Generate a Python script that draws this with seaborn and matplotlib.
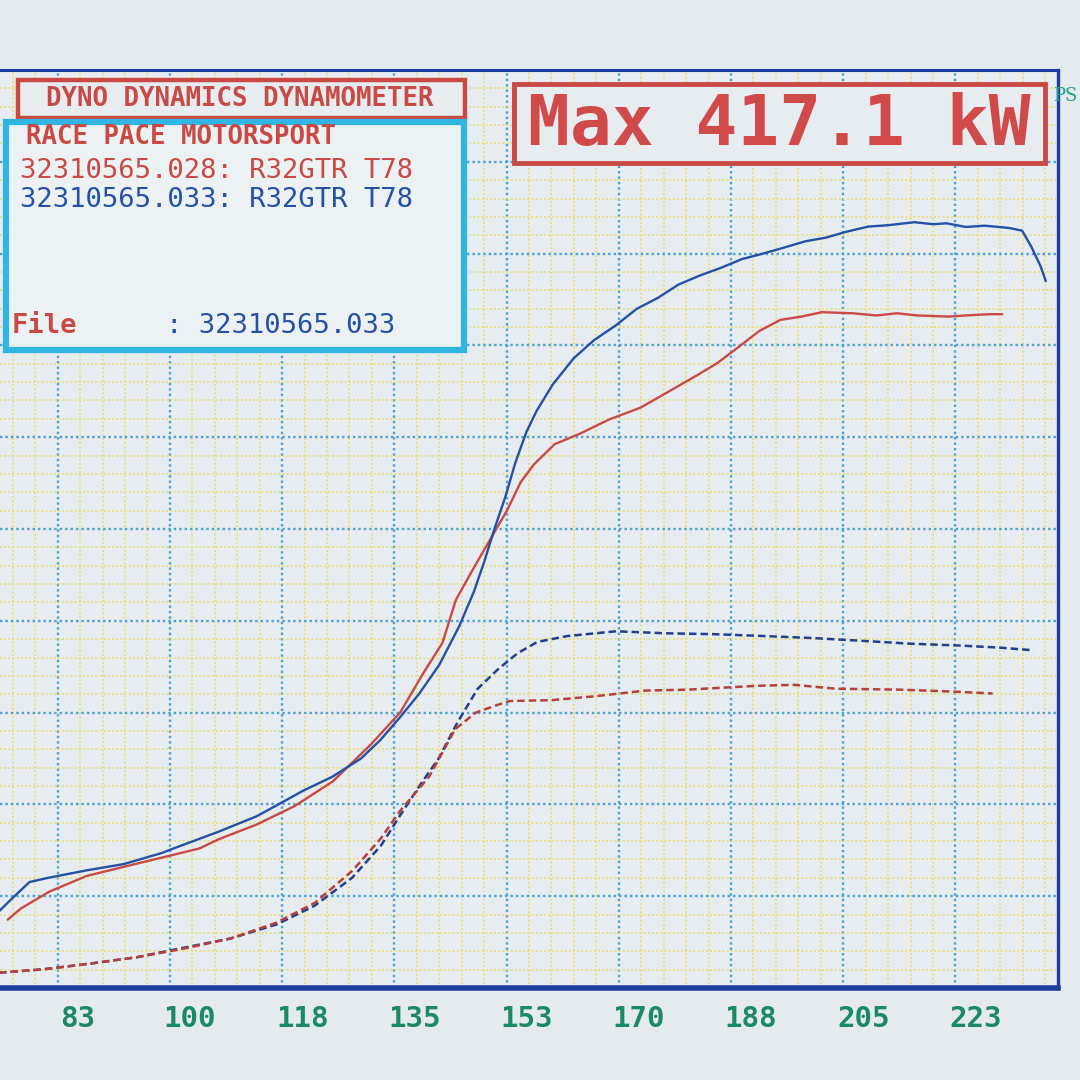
import numpy as np
import pandas as pd
import matplotlib
matplotlib.use("Agg")
import matplotlib.pyplot as plt
import matplotlib.transforms as mtransforms
from matplotlib.patches import Rectangle
from matplotlib.ticker import FixedLocator, MultipleLocator
import seaborn as sns

# run 32310565.033 (azul) - potencia en rueda
speed_033 = [73.0, 75.8, 78.6, 81.5, 87.4, 93.3, 99.2, 102.2, 108.0, 114.0, 116.9, 121.3, 125.8,
             130.3, 133.3, 136.4, 139.4, 142.5, 145.6, 147.9, 149.5, 151.2, 152.8, 154.4, 156.1,
             157.7, 160.2, 163.5, 166.7, 170.0, 173.3, 176.6, 179.8, 183.1, 186.4, 189.7, 193.0,
             196.3, 199.6, 202.8, 206.1, 209.4, 212.6, 216.6, 219.5, 221.6, 224.6, 227.6, 231.3,
             233.4, 234.8, 236.3, 237.1]
kw_033 = [38.8, 48.5, 57.7, 60.0, 64.0, 67.5, 73.5, 77.5, 85.0, 93.5, 99.0, 107.5, 115.0,
          125.0, 135.0, 147.5, 160.4, 176.0, 196.9, 215.8, 232.0, 251.0, 267.4, 286.4, 302.9,
          314.4, 328.7, 343.1, 353.0, 360.8, 369.9, 375.9, 383.1, 388.0, 392.2, 397.0, 400.0,
          403.3, 406.7, 408.7, 412.0, 414.7, 415.5, 417.1, 416.0, 416.5, 414.5, 415.2, 414.0,
          412.5, 404.0, 393.0, 385.0]

# run 32310565.028 (rojo) - potencia en rueda
speed_028 = [75.2, 77.3, 81.7, 87.5, 93.3, 99.2, 105.1, 108.1, 114.0, 119.9, 125.9, 131.8, 136.4,
             139.9, 143.0, 145.1, 147.7, 150.4, 153.1, 155.2, 157.3, 160.5, 164.3, 169.1, 173.9,
             178.8, 182.5, 185.8, 189.1, 192.4, 195.7, 199.0, 202.2, 207.0, 210.7, 213.9, 217.1,
             221.9, 224.6, 228.3, 230.3]
kw_028 = [37.2, 43.4, 52.5, 61.0, 66.0, 71.0, 76.0, 81.0, 89.0, 99.0, 112.5, 132.5, 150.0,
          170.8, 188.0, 211.4, 227.7, 244.0, 260.3, 275.5, 285.3, 296.2, 301.7, 309.8, 316.1,
          325.9, 333.3, 340.2, 348.9, 357.8, 363.9, 365.7, 368.1, 367.5, 366.3, 367.5, 366.3,
          365.7, 366.3, 367.0, 367.0]

# curvas punteadas (segunda magnitud), en unidades de la grilla
speed_033_b = [73.5, 80.8, 88.1, 95.4, 102.6, 110.0, 117.2, 123.1, 128.9, 133.4, 136.4, 139.4,
               142.4, 145.4, 148.5, 151.6, 154.7, 157.8, 162.5, 170.1, 177.8, 185.5, 193.2,
               200.8, 208.4, 216.1, 223.8, 229.9, 235.2]
val_033_b = [8.2, 10.2, 13.3, 16.8, 21.9, 27.0, 34.7, 44.9, 60.0, 77.5, 94.0, 110.0,
             125.0, 145.0, 163.0, 173.4, 182.3, 188.5, 191.7, 194.3, 193.2, 192.7, 191.7,
             190.6, 189.1, 187.5, 186.5, 185.4, 183.9]
speed_028_b = [73.5, 80.8, 88.1, 95.4, 102.6, 110.0, 117.2, 123.1, 129.0, 133.4, 136.4, 140.9,
               145.0, 148.2, 151.6, 153.5, 160.1, 166.8, 174.7, 181.3, 192.0, 197.9, 204.4,
               214.3, 222.3, 228.8]
val_028_b = [8.2, 10.2, 13.3, 16.8, 21.4, 27.0, 35.7, 46.4, 64.0, 81.5, 96.5, 115.0,
             141.0, 150.0, 154.2, 156.3, 156.8, 158.9, 162.0, 162.5, 164.6, 165.1, 163.0,
             162.5, 161.5, 160.4]

x_ticks = [83, 100.5, 118, 135.5, 153, 170.5, 188, 205.5, 223]
x_labels = ["83", "100", "118", "135", "153", "170", "188", "205", "223"]

PAPER = "#e4eaed"
BORDER = "#1d3d9e"
RED = "#c94a44"
BLUE = "#2450a8"
CYAN = "#2fb6e3"
GREEN = "#1b8a64"

sns.set_style("white")
plt.rcParams['font.family'] = ['DejaVu Sans Mono', 'DejaVu Sans']

fig = plt.figure(figsize=(10.8, 10.8), dpi=100)
fig.patch.set_facecolor(PAPER)
H = 1080.0
ax = fig.add_axes([0.0, 1 - 988 / H, 1058 / H, (988 - 70) / H])
ax.set_facecolor("#e6ecef")

# grilla
ax.set_xlim(74, 239)
ax.set_ylim(0, 500)
ax.xaxis.set_major_locator(FixedLocator(x_ticks))
ax.xaxis.set_minor_locator(FixedLocator(np.arange(83 - 3 * 3.5, 241, 3.5)))
ax.yaxis.set_major_locator(MultipleLocator(50))
ax.yaxis.set_minor_locator(MultipleLocator(10))
ax.grid(which='minor', color='#e8dc78', linestyle=(0, (1, 1.3)), linewidth=1.3, zorder=0)
ax.grid(which='major', color='#4aa2d4', linestyle=(0, (1, 1.3)), linewidth=1.7, zorder=0.5)
ax.set_axisbelow(True)

# curvas
dash = (0, (3, 1.6))
sns.lineplot(x=speed_033_b, y=val_033_b, ax=ax, color="#22408f", lw=1.8,
             linestyle=dash, estimator=None)
sns.lineplot(x=speed_028_b, y=val_028_b, ax=ax, color="#b8403a", lw=1.8,
             linestyle=dash, estimator=None)
sns.lineplot(x=speed_028, y=kw_028, ax=ax, color=RED, lw=1.7, estimator=None)
sns.lineplot(x=speed_033, y=kw_033, ax=ax, color=BLUE, lw=1.7, estimator=None)

# bordes
ax.spines['left'].set_visible(False)
ax.spines['bottom'].set_color(BORDER)
ax.spines['bottom'].set_linewidth(4)
ax.spines['top'].set_color(BORDER)
ax.spines['top'].set_linewidth(2.2)
ax.spines['right'].set_color(BORDER)
ax.spines['right'].set_linewidth(2.4)

ax.set_xlabel("")
ax.set_ylabel("")
ax.set_yticklabels([])
ax.set_xticklabels(x_labels)
ax.tick_params(axis='both', which='both', length=0)
ax.tick_params(axis='x', colors=GREEN, labelsize=21, pad=12)
offset = mtransforms.ScaledTranslation(20 / 100, 0, fig.dpi_scale_trans)
for lbl in ax.get_xticklabels():
    lbl.set_transform(lbl.get_transform() + offset)
    lbl.set_fontweight('bold')


def px_rect(x0, y0, x1, y1, edge, lw, face):
    r = Rectangle((x0 / H, 1 - y1 / H), (x1 - x0) / H, (y1 - y0) / H,
                  transform=fig.transFigure, facecolor=face, edgecolor=edge,
                  linewidth=lw, zorder=5)
    fig.add_artist(r)


# recuadros de texto
px_rect(18, 80, 465, 118, RED, 3.2, "#e6ecef")
px_rect(6, 122, 464, 350, CYAN, 4.5, "#ecf1f4")
px_rect(514, 84, 1045, 163, RED, 3.5, "#e6ecef")

def ftext(x, y, s, **kw):
    fig.text(x / H, 1 - y / H, s, zorder=6, **kw)

ftext(240, 99, "DYNO DYNAMICS DYNAMOMETER", color=RED, fontsize=18.5,
      fontweight='bold', ha='center', va='center')
ftext(26, 137, "RACE PACE MOTORSPORT", color=RED, fontsize=18.5,
      fontweight='bold', ha='left', va='center')
ftext(20, 171, "32310565.028: R32GTR T78", color=RED, fontsize=19.5,
      ha='left', va='center')
ftext(20, 200, "32310565.033: R32GTR T78", color=BLUE, fontsize=19.5,
      ha='left', va='center')
ftext(12, 326, "File", color=RED, fontsize=19.5, fontweight='bold',
      ha='left', va='center')
ftext(166, 326, ": 32310565.033", color=BLUE, fontsize=19.5,
      ha='left', va='center')
ftext(779, 125, "Max 417.1 kW", color="#d14a4a", fontsize=50,
      fontweight='bold', ha='center', va='center')
ftext(1077, 96, "PS", color="#22a386", fontsize=13, family=['DejaVu Serif'],
      ha='right', va='center')

plt.savefig("out.png", dpi=100, facecolor=fig.get_facecolor())
